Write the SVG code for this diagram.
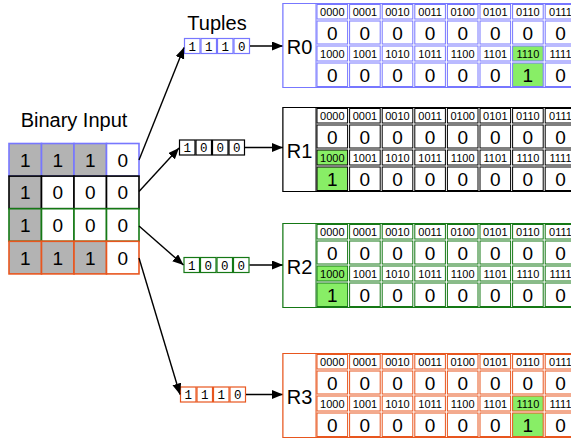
<svg xmlns="http://www.w3.org/2000/svg" width="571" height="439" viewBox="0 0 571 439">
<defs>
<style>
text{font-family:"Liberation Sans",Arial,sans-serif;fill:#000;text-anchor:middle}
.t1{font-size:20px}
.bv{font-size:19px}
.hd{font-size:11px}
.vv{font-size:19px}
.rl{font-size:20px}
.tp{font-family:"Liberation Mono","DejaVu Sans Mono",monospace;font-size:12.5px}
.tbl rect{fill:#fff;stroke-width:1}
.tbl rect.h{fill:#88ee66}
.blue rect{stroke:#7777ff}
.black rect{stroke:#000}
.green rect{stroke:#157815}
.orange rect{stroke:#e8561e}
.bin rect{stroke-width:1.6;fill:#fff}
.bin rect.g{fill:#b3b3b3}
.tup rect{fill:#fff;stroke-width:1.2}
.con path{fill:none;stroke:#000;stroke-width:1.4}
</style>
<marker id="ah" markerUnits="userSpaceOnUse" markerWidth="12" markerHeight="10" refX="11" refY="4.5" orient="auto">
<path d="M0,0 L11,4.5 L0,9 z" fill="#000"/>
</marker>
</defs>
<rect width="571" height="439" fill="#fff"/>

<text class="t1" x="74" y="127">Binary Input</text>
<text class="t1" x="217" y="30">Tuples</text>

<g id="binary-input" class="bin">
<g class="blue">
<rect class="g" x="9" y="143.5" width="32.5" height="32.6"/>
<rect class="g" x="41.5" y="143.5" width="32.5" height="32.6"/>
<rect class="g" x="74" y="143.5" width="32.5" height="32.6"/>
<rect x="106.5" y="143.5" width="32.5" height="32.6"/>
</g>
<g class="black">
<rect class="g" x="9" y="176.1" width="32.5" height="32.6"/>
<rect x="41.5" y="176.1" width="32.5" height="32.6"/>
<rect x="74" y="176.1" width="32.5" height="32.6"/>
<rect x="106.5" y="176.1" width="32.5" height="32.6"/>
</g>
<g class="green">
<rect class="g" x="9" y="208.7" width="32.5" height="32.6"/>
<rect x="41.5" y="208.7" width="32.5" height="32.6"/>
<rect x="74" y="208.7" width="32.5" height="32.6"/>
<rect x="106.5" y="208.7" width="32.5" height="32.6"/>
</g>
<g class="orange">
<rect class="g" x="9" y="241.3" width="32.5" height="32.6"/>
<rect class="g" x="41.5" y="241.3" width="32.5" height="32.6"/>
<rect class="g" x="74" y="241.3" width="32.5" height="32.6"/>
<rect x="106.5" y="241.3" width="32.5" height="32.6"/>
</g>
<text class="bv" x="25.25" y="166.8">1</text><text class="bv" x="57.75" y="166.8">1</text><text class="bv" x="90.25" y="166.8">1</text><text class="bv" x="122.75" y="166.8">0</text>
<text class="bv" x="25.25" y="199.4">1</text><text class="bv" x="57.75" y="199.4">0</text><text class="bv" x="90.25" y="199.4">0</text><text class="bv" x="122.75" y="199.4">0</text>
<text class="bv" x="25.25" y="232">1</text><text class="bv" x="57.75" y="232">0</text><text class="bv" x="90.25" y="232">0</text><text class="bv" x="122.75" y="232">0</text>
<text class="bv" x="25.25" y="264.6">1</text><text class="bv" x="57.75" y="264.6">1</text><text class="bv" x="90.25" y="264.6">1</text><text class="bv" x="122.75" y="264.6">0</text>
</g>

<g id="tuple0" class="tup blue" transform="translate(184,38)">
<rect x="0.5" y="0.5" width="15.5" height="15"/><rect x="17" y="0.5" width="15.5" height="15"/><rect x="33.5" y="0.5" width="15.5" height="15"/><rect x="50" y="0.5" width="15.5" height="15"/>
<text class="tp" x="8.25" y="12.5">1</text><text class="tp" x="24.75" y="12.5">1</text><text class="tp" x="41.25" y="12.5">1</text><text class="tp" x="57.75" y="12.5">0</text>
</g>
<g id="tuple1" class="tup black" transform="translate(179,139.5)">
<rect x="0.5" y="0.5" width="15.5" height="15"/><rect x="17" y="0.5" width="15.5" height="15"/><rect x="33.5" y="0.5" width="15.5" height="15"/><rect x="50" y="0.5" width="15.5" height="15"/>
<text class="tp" x="8.25" y="12.5">1</text><text class="tp" x="24.75" y="12.5">0</text><text class="tp" x="41.25" y="12.5">0</text><text class="tp" x="57.75" y="12.5">0</text>
</g>
<g id="tuple2" class="tup green" transform="translate(183.5,257)">
<rect x="0.5" y="0.5" width="15.5" height="15"/><rect x="17" y="0.5" width="15.5" height="15"/><rect x="33.5" y="0.5" width="15.5" height="15"/><rect x="50" y="0.5" width="15.5" height="15"/>
<text class="tp" x="8.25" y="12.5">1</text><text class="tp" x="24.75" y="12.5">0</text><text class="tp" x="41.25" y="12.5">0</text><text class="tp" x="57.75" y="12.5">0</text>
</g>
<g id="tuple3" class="tup orange" transform="translate(180,386.5)">
<rect x="0.5" y="0.5" width="15.5" height="15"/><rect x="17" y="0.5" width="15.5" height="15"/><rect x="33.5" y="0.5" width="15.5" height="15"/><rect x="50" y="0.5" width="15.5" height="15"/>
<text class="tp" x="8.25" y="12.5">1</text><text class="tp" x="24.75" y="12.5">1</text><text class="tp" x="41.25" y="12.5">1</text><text class="tp" x="57.75" y="12.5">0</text>
</g>

<g id="connectors" class="con">
<path d="M139,160 L184,47.5" marker-end="url(#ah)"/>
<path d="M139,191.5 L179,148" marker-end="url(#ah)"/>
<path d="M139,226 L183.5,265" marker-end="url(#ah)"/>
<path d="M139,258 L180,394.5" marker-end="url(#ah)"/>
<path d="M250,46 L283,46" marker-end="url(#ah)"/>
<path d="M245,147.5 L283,147.5" marker-end="url(#ah)"/>
<path d="M249.5,265 L283,265" marker-end="url(#ah)"/>
<path d="M246,394.5 L283,394.5" marker-end="url(#ah)"/>
</g>

<g id="R0" class="tbl blue" transform="translate(283,3.5)">
<rect x="0" y="0" width="300" height="84"/>
<rect x="0" y="0" width="33" height="84"/>
<text class="rl" x="16.5" y="50">R0</text>
<rect x="34" y="1" width="30.6" height="14.5"/><rect x="66.6" y="1" width="30.6" height="14.5"/><rect x="99.2" y="1" width="30.6" height="14.5"/><rect x="131.8" y="1" width="30.6" height="14.5"/><rect x="164.4" y="1" width="30.6" height="14.5"/><rect x="197" y="1" width="30.6" height="14.5"/><rect x="229.6" y="1" width="30.6" height="14.5"/><rect x="262.2" y="1" width="30.6" height="14.5"/>
<rect x="34" y="17.5" width="30.6" height="23"/><rect x="66.6" y="17.5" width="30.6" height="23"/><rect x="99.2" y="17.5" width="30.6" height="23"/><rect x="131.8" y="17.5" width="30.6" height="23"/><rect x="164.4" y="17.5" width="30.6" height="23"/><rect x="197" y="17.5" width="30.6" height="23"/><rect x="229.6" y="17.5" width="30.6" height="23"/><rect x="262.2" y="17.5" width="30.6" height="23"/>
<rect x="34" y="42.5" width="30.6" height="15"/><rect x="66.6" y="42.5" width="30.6" height="15"/><rect x="99.2" y="42.5" width="30.6" height="15"/><rect x="131.8" y="42.5" width="30.6" height="15"/><rect x="164.4" y="42.5" width="30.6" height="15"/><rect x="197" y="42.5" width="30.6" height="15"/><rect class="h" x="229.6" y="42.5" width="30.6" height="15"/><rect x="262.2" y="42.5" width="30.6" height="15"/>
<rect x="34" y="59.5" width="30.6" height="23.5"/><rect x="66.6" y="59.5" width="30.6" height="23.5"/><rect x="99.2" y="59.5" width="30.6" height="23.5"/><rect x="131.8" y="59.5" width="30.6" height="23.5"/><rect x="164.4" y="59.5" width="30.6" height="23.5"/><rect x="197" y="59.5" width="30.6" height="23.5"/><rect class="h" x="229.6" y="59.5" width="30.6" height="23.5"/><rect x="262.2" y="59.5" width="30.6" height="23.5"/>
<text class="hd" x="49.3" y="12.3">0000</text><text class="hd" x="81.9" y="12.3">0001</text><text class="hd" x="114.5" y="12.3">0010</text><text class="hd" x="147.1" y="12.3">0011</text><text class="hd" x="179.7" y="12.3">0100</text><text class="hd" x="212.3" y="12.3">0101</text><text class="hd" x="244.9" y="12.3">0110</text><text class="hd" x="277.5" y="12.3">0111</text>
<text class="vv" x="49.3" y="36.5">0</text><text class="vv" x="81.9" y="36.5">0</text><text class="vv" x="114.5" y="36.5">0</text><text class="vv" x="147.1" y="36.5">0</text><text class="vv" x="179.7" y="36.5">0</text><text class="vv" x="212.3" y="36.5">0</text><text class="vv" x="244.9" y="36.5">0</text><text class="vv" x="277.5" y="36.5">0</text>
<text class="hd" x="49.3" y="54">1000</text><text class="hd" x="81.9" y="54">1001</text><text class="hd" x="114.5" y="54">1010</text><text class="hd" x="147.1" y="54">1011</text><text class="hd" x="179.7" y="54">1100</text><text class="hd" x="212.3" y="54">1101</text><text class="hd" x="244.9" y="54">1110</text><text class="hd" x="277.5" y="54">1111</text>
<text class="vv" x="49.3" y="78">0</text><text class="vv" x="81.9" y="78">0</text><text class="vv" x="114.5" y="78">0</text><text class="vv" x="147.1" y="78">0</text><text class="vv" x="179.7" y="78">0</text><text class="vv" x="212.3" y="78">0</text><text class="vv" x="244.9" y="78">1</text><text class="vv" x="277.5" y="78">0</text>
</g>

<g id="R1" class="tbl black" transform="translate(283,107.5)">
<rect x="0" y="0" width="300" height="84"/>
<rect x="0" y="0" width="33" height="84"/>
<text class="rl" x="16.5" y="50">R1</text>
<rect x="34" y="1" width="30.6" height="14.5"/><rect x="66.6" y="1" width="30.6" height="14.5"/><rect x="99.2" y="1" width="30.6" height="14.5"/><rect x="131.8" y="1" width="30.6" height="14.5"/><rect x="164.4" y="1" width="30.6" height="14.5"/><rect x="197" y="1" width="30.6" height="14.5"/><rect x="229.6" y="1" width="30.6" height="14.5"/><rect x="262.2" y="1" width="30.6" height="14.5"/>
<rect x="34" y="17.5" width="30.6" height="23"/><rect x="66.6" y="17.5" width="30.6" height="23"/><rect x="99.2" y="17.5" width="30.6" height="23"/><rect x="131.8" y="17.5" width="30.6" height="23"/><rect x="164.4" y="17.5" width="30.6" height="23"/><rect x="197" y="17.5" width="30.6" height="23"/><rect x="229.6" y="17.5" width="30.6" height="23"/><rect x="262.2" y="17.5" width="30.6" height="23"/>
<rect class="h" x="34" y="42.5" width="30.6" height="15"/><rect x="66.6" y="42.5" width="30.6" height="15"/><rect x="99.2" y="42.5" width="30.6" height="15"/><rect x="131.8" y="42.5" width="30.6" height="15"/><rect x="164.4" y="42.5" width="30.6" height="15"/><rect x="197" y="42.5" width="30.6" height="15"/><rect x="229.6" y="42.5" width="30.6" height="15"/><rect x="262.2" y="42.5" width="30.6" height="15"/>
<rect class="h" x="34" y="59.5" width="30.6" height="23.5"/><rect x="66.6" y="59.5" width="30.6" height="23.5"/><rect x="99.2" y="59.5" width="30.6" height="23.5"/><rect x="131.8" y="59.5" width="30.6" height="23.5"/><rect x="164.4" y="59.5" width="30.6" height="23.5"/><rect x="197" y="59.5" width="30.6" height="23.5"/><rect x="229.6" y="59.5" width="30.6" height="23.5"/><rect x="262.2" y="59.5" width="30.6" height="23.5"/>
<text class="hd" x="49.3" y="12.3">0000</text><text class="hd" x="81.9" y="12.3">0001</text><text class="hd" x="114.5" y="12.3">0010</text><text class="hd" x="147.1" y="12.3">0011</text><text class="hd" x="179.7" y="12.3">0100</text><text class="hd" x="212.3" y="12.3">0101</text><text class="hd" x="244.9" y="12.3">0110</text><text class="hd" x="277.5" y="12.3">0111</text>
<text class="vv" x="49.3" y="36.5">0</text><text class="vv" x="81.9" y="36.5">0</text><text class="vv" x="114.5" y="36.5">0</text><text class="vv" x="147.1" y="36.5">0</text><text class="vv" x="179.7" y="36.5">0</text><text class="vv" x="212.3" y="36.5">0</text><text class="vv" x="244.9" y="36.5">0</text><text class="vv" x="277.5" y="36.5">0</text>
<text class="hd" x="49.3" y="54">1000</text><text class="hd" x="81.9" y="54">1001</text><text class="hd" x="114.5" y="54">1010</text><text class="hd" x="147.1" y="54">1011</text><text class="hd" x="179.7" y="54">1100</text><text class="hd" x="212.3" y="54">1101</text><text class="hd" x="244.9" y="54">1110</text><text class="hd" x="277.5" y="54">1111</text>
<text class="vv" x="49.3" y="78">1</text><text class="vv" x="81.9" y="78">0</text><text class="vv" x="114.5" y="78">0</text><text class="vv" x="147.1" y="78">0</text><text class="vv" x="179.7" y="78">0</text><text class="vv" x="212.3" y="78">0</text><text class="vv" x="244.9" y="78">0</text><text class="vv" x="277.5" y="78">0</text>
</g>

<g id="R2" class="tbl green" transform="translate(283,223.5)">
<rect x="0" y="0" width="300" height="84"/>
<rect x="0" y="0" width="33" height="84"/>
<text class="rl" x="16.5" y="50">R2</text>
<rect x="34" y="1" width="30.6" height="14.5"/><rect x="66.6" y="1" width="30.6" height="14.5"/><rect x="99.2" y="1" width="30.6" height="14.5"/><rect x="131.8" y="1" width="30.6" height="14.5"/><rect x="164.4" y="1" width="30.6" height="14.5"/><rect x="197" y="1" width="30.6" height="14.5"/><rect x="229.6" y="1" width="30.6" height="14.5"/><rect x="262.2" y="1" width="30.6" height="14.5"/>
<rect x="34" y="17.5" width="30.6" height="23"/><rect x="66.6" y="17.5" width="30.6" height="23"/><rect x="99.2" y="17.5" width="30.6" height="23"/><rect x="131.8" y="17.5" width="30.6" height="23"/><rect x="164.4" y="17.5" width="30.6" height="23"/><rect x="197" y="17.5" width="30.6" height="23"/><rect x="229.6" y="17.5" width="30.6" height="23"/><rect x="262.2" y="17.5" width="30.6" height="23"/>
<rect class="h" x="34" y="42.5" width="30.6" height="15"/><rect x="66.6" y="42.5" width="30.6" height="15"/><rect x="99.2" y="42.5" width="30.6" height="15"/><rect x="131.8" y="42.5" width="30.6" height="15"/><rect x="164.4" y="42.5" width="30.6" height="15"/><rect x="197" y="42.5" width="30.6" height="15"/><rect x="229.6" y="42.5" width="30.6" height="15"/><rect x="262.2" y="42.5" width="30.6" height="15"/>
<rect class="h" x="34" y="59.5" width="30.6" height="23.5"/><rect x="66.6" y="59.5" width="30.6" height="23.5"/><rect x="99.2" y="59.5" width="30.6" height="23.5"/><rect x="131.8" y="59.5" width="30.6" height="23.5"/><rect x="164.4" y="59.5" width="30.6" height="23.5"/><rect x="197" y="59.5" width="30.6" height="23.5"/><rect x="229.6" y="59.5" width="30.6" height="23.5"/><rect x="262.2" y="59.5" width="30.6" height="23.5"/>
<text class="hd" x="49.3" y="12.3">0000</text><text class="hd" x="81.9" y="12.3">0001</text><text class="hd" x="114.5" y="12.3">0010</text><text class="hd" x="147.1" y="12.3">0011</text><text class="hd" x="179.7" y="12.3">0100</text><text class="hd" x="212.3" y="12.3">0101</text><text class="hd" x="244.9" y="12.3">0110</text><text class="hd" x="277.5" y="12.3">0111</text>
<text class="vv" x="49.3" y="36.5">0</text><text class="vv" x="81.9" y="36.5">0</text><text class="vv" x="114.5" y="36.5">0</text><text class="vv" x="147.1" y="36.5">0</text><text class="vv" x="179.7" y="36.5">0</text><text class="vv" x="212.3" y="36.5">0</text><text class="vv" x="244.9" y="36.5">0</text><text class="vv" x="277.5" y="36.5">0</text>
<text class="hd" x="49.3" y="54">1000</text><text class="hd" x="81.9" y="54">1001</text><text class="hd" x="114.5" y="54">1010</text><text class="hd" x="147.1" y="54">1011</text><text class="hd" x="179.7" y="54">1100</text><text class="hd" x="212.3" y="54">1101</text><text class="hd" x="244.9" y="54">1110</text><text class="hd" x="277.5" y="54">1111</text>
<text class="vv" x="49.3" y="78">1</text><text class="vv" x="81.9" y="78">0</text><text class="vv" x="114.5" y="78">0</text><text class="vv" x="147.1" y="78">0</text><text class="vv" x="179.7" y="78">0</text><text class="vv" x="212.3" y="78">0</text><text class="vv" x="244.9" y="78">0</text><text class="vv" x="277.5" y="78">0</text>
</g>

<g id="R3" class="tbl orange" transform="translate(283,353.5)">
<rect x="0" y="0" width="300" height="84"/>
<rect x="0" y="0" width="33" height="84"/>
<text class="rl" x="16.5" y="50">R3</text>
<rect x="34" y="1" width="30.6" height="14.5"/><rect x="66.6" y="1" width="30.6" height="14.5"/><rect x="99.2" y="1" width="30.6" height="14.5"/><rect x="131.8" y="1" width="30.6" height="14.5"/><rect x="164.4" y="1" width="30.6" height="14.5"/><rect x="197" y="1" width="30.6" height="14.5"/><rect x="229.6" y="1" width="30.6" height="14.5"/><rect x="262.2" y="1" width="30.6" height="14.5"/>
<rect x="34" y="17.5" width="30.6" height="23"/><rect x="66.6" y="17.5" width="30.6" height="23"/><rect x="99.2" y="17.5" width="30.6" height="23"/><rect x="131.8" y="17.5" width="30.6" height="23"/><rect x="164.4" y="17.5" width="30.6" height="23"/><rect x="197" y="17.5" width="30.6" height="23"/><rect x="229.6" y="17.5" width="30.6" height="23"/><rect x="262.2" y="17.5" width="30.6" height="23"/>
<rect x="34" y="42.5" width="30.6" height="15"/><rect x="66.6" y="42.5" width="30.6" height="15"/><rect x="99.2" y="42.5" width="30.6" height="15"/><rect x="131.8" y="42.5" width="30.6" height="15"/><rect x="164.4" y="42.5" width="30.6" height="15"/><rect x="197" y="42.5" width="30.6" height="15"/><rect class="h" x="229.6" y="42.5" width="30.6" height="15"/><rect x="262.2" y="42.5" width="30.6" height="15"/>
<rect x="34" y="59.5" width="30.6" height="23.5"/><rect x="66.6" y="59.5" width="30.6" height="23.5"/><rect x="99.2" y="59.5" width="30.6" height="23.5"/><rect x="131.8" y="59.5" width="30.6" height="23.5"/><rect x="164.4" y="59.5" width="30.6" height="23.5"/><rect x="197" y="59.5" width="30.6" height="23.5"/><rect class="h" x="229.6" y="59.5" width="30.6" height="23.5"/><rect x="262.2" y="59.5" width="30.6" height="23.5"/>
<text class="hd" x="49.3" y="12.3">0000</text><text class="hd" x="81.9" y="12.3">0001</text><text class="hd" x="114.5" y="12.3">0010</text><text class="hd" x="147.1" y="12.3">0011</text><text class="hd" x="179.7" y="12.3">0100</text><text class="hd" x="212.3" y="12.3">0101</text><text class="hd" x="244.9" y="12.3">0110</text><text class="hd" x="277.5" y="12.3">0111</text>
<text class="vv" x="49.3" y="36.5">0</text><text class="vv" x="81.9" y="36.5">0</text><text class="vv" x="114.5" y="36.5">0</text><text class="vv" x="147.1" y="36.5">0</text><text class="vv" x="179.7" y="36.5">0</text><text class="vv" x="212.3" y="36.5">0</text><text class="vv" x="244.9" y="36.5">0</text><text class="vv" x="277.5" y="36.5">0</text>
<text class="hd" x="49.3" y="54">1000</text><text class="hd" x="81.9" y="54">1001</text><text class="hd" x="114.5" y="54">1010</text><text class="hd" x="147.1" y="54">1011</text><text class="hd" x="179.7" y="54">1100</text><text class="hd" x="212.3" y="54">1101</text><text class="hd" x="244.9" y="54">1110</text><text class="hd" x="277.5" y="54">1111</text>
<text class="vv" x="49.3" y="78">0</text><text class="vv" x="81.9" y="78">0</text><text class="vv" x="114.5" y="78">0</text><text class="vv" x="147.1" y="78">0</text><text class="vv" x="179.7" y="78">0</text><text class="vv" x="212.3" y="78">0</text><text class="vv" x="244.9" y="78">1</text><text class="vv" x="277.5" y="78">0</text>
</g>
</svg>
